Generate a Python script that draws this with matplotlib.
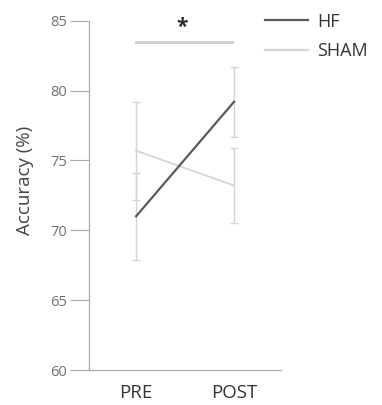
import matplotlib
matplotlib.use("Agg")
import matplotlib.pyplot as plt
from matplotlib.lines import Line2D

plt.rcParams['font.family'] = ['Open Sans', 'DejaVu Sans']

sessions = ["PRE", "POST"]
hf_mean = [71.0, 79.2]
hf_err = [3.1, 2.5]
sham_mean = [75.7, 73.2]
sham_err = [3.5, 2.7]
yticks = [60, 65, 70, 75, 80, 85]
sig_level = 83.45

hf_color = '#5a5a5a'
sham_color = '#d9d5d1'

fig = plt.figure(figsize=(3.82, 4.05), dpi=100)
ax = fig.add_axes([0.233, 0.0864, 0.503, 0.8625])
x = list(range(len(sessions)))

ax.errorbar(x, sham_mean, yerr=sham_err, color=sham_color, ecolor='#d4d4d4',
            elinewidth=1.0, capsize=3, capthick=1.0, lw=1.3, zorder=2)
ax.errorbar(x, hf_mean, yerr=hf_err, color=hf_color, ecolor='#d4d4d4',
            elinewidth=1.0, capsize=3, capthick=1.0, lw=1.6, zorder=3)

ax.plot([x[0], x[1] - 0.02], [sig_level, sig_level], color='#d2d2d2', lw=2.2)
ax.text((x[0] + x[1]) / 2 - 0.03, 83.75, '*', ha='center', va='bottom', fontsize=15,
        fontweight='bold', color='#2a2a2a')

ax.set_xlim(-0.48, 1.48)
ax.set_ylim(60, 85)
ax.set_yticks(yticks)
ax.set_xticks(x)
ax.set_xticklabels(sessions, fontsize=13.5, color='#333333')
ax.set_ylabel('Accuracy (%)', fontsize=13.5, color='#444444')
ax.yaxis.set_label_coords(-0.285, 0.543)
ax.tick_params(axis='y', length=14, width=0.8, color='#aaaaaa', labelsize=10.5,
               labelcolor='#707070', pad=2)
ax.tick_params(axis='x', length=0, pad=10)
for s in ['top', 'right']:
    ax.spines[s].set_visible(False)
for s in ['left', 'bottom']:
    ax.spines[s].set_color('#aaaaaa')
    ax.spines[s].set_linewidth(0.9)

handles = [Line2D([], [], color=hf_color, lw=1.6), Line2D([], [], color=sham_color, lw=1.6)]
leg = ax.legend(handles, ['HF', 'SHAM'], loc='upper left', bbox_to_anchor=(0.877, 1.044),
                frameon=False, fontsize=13, handlelength=2.4, handletextpad=0.5,
                labelspacing=0.65, borderaxespad=0.0)
for t in leg.get_texts():
    t.set_color('#333333')

fig.savefig('out.png', dpi=100)
